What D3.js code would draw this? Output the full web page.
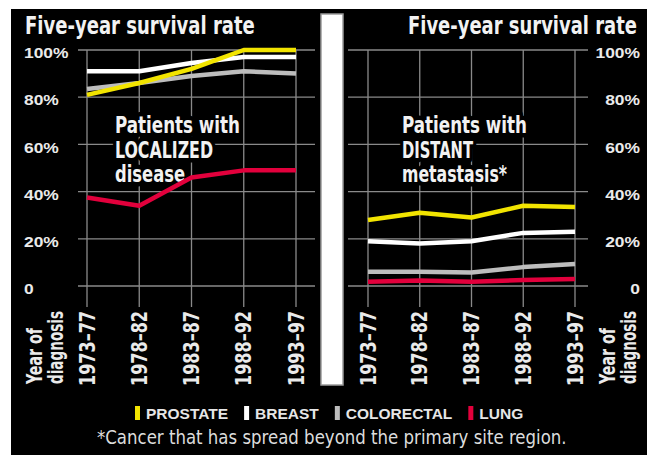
<!DOCTYPE html>
<html>
<head>
<meta charset="utf-8">
<script src="https://cdn.jsdelivr.net/npm/d3@7"></script>
<style>
  html, body { margin: 0; padding: 0; background: #fff; }
  svg { display: block; }
</style>
</head>
<body>
<svg id="chart" width="647" height="455"></svg>
<script>
// ---------- DATA ----------
const periods = ["1973–77", "1978–82", "1983–87", "1988–92", "1993–97"];
const localizedProstate   = [81, 86, 92, 100, 100];
const localizedBreast     = [91, 91, 94.5, 97, 97];
const localizedColorectal = [83.5, 86, 89, 91, 90];
const localizedLung       = [37.5, 34, 46, 49, 49];
const distantProstate     = [28, 31, 29, 34, 33.5];
const distantBreast       = [19, 18, 19, 22.5, 23];
const distantColorectal   = [6, 6, 5.7, 8, 9.3];
const distantLung         = [1.8, 2.3, 1.8, 2.5, 3];
const yTicks      = [0, 20, 40, 60, 80, 100];
const yTickLabels = ["0", "20%", "40%", "60%", "80%", "100%"];
const seriesNames  = ["PROSTATE", "BREAST", "COLORECTAL", "LUNG"];
const seriesColors = ["#f2e400", "#ffffff", "#bdbdbd", "#e2003c"];
const titleText = "Five-year survival rate";
const leftNote  = ["Patients with", "LOCALIZED", "disease"];
const rightNote = ["Patients with", "DISTANT", "metastasis*"];
const axisTitle = ["Year of", "diagnosis"];
const footnote  = "*Cancer that has spread beyond the primary site region.";

// ---------- SETUP ----------
const svg = d3.select("#chart");
const NARROW = "'Liberation Sans Narrow','DejaVu Sans Condensed','Roboto Condensed',sans-serif";
const WIDE = "'Liberation Sans','Arial',sans-serif";

svg.append("rect").attr("x", 11).attr("y", 9).attr("width", 636).attr("height", 446).attr("fill", "#000");

const y = d3.scaleLinear().domain([0, 100]).range([286, 50]);
const xL = d3.scalePoint().domain(periods).range([87, 296]);
const xR = d3.scalePoint().domain(periods).range([368, 575]);

function fitText(sel, len) {
  sel.attr("textLength", len).attr("lengthAdjust", "spacingAndGlyphs");
}
// squeeze a text horizontally with a transform so its real box matches the target width
function squeeze(sel, x0, y0, len) {
  const n = sel.node().getComputedTextLength();
  sel.attr("x", 0).attr("y", 0)
     .attr("transform", `translate(${x0},${y0}) scale(${len / n},1)`);
}

function panel(x, gx0, gx1, data, note, noteX, noteLens, side) {
  const g = svg.append("g");
  // horizontal gridlines
  g.selectAll("line.h").data(yTicks).join("line")
    .attr("x1", gx0).attr("x2", gx1)
    .attr("y1", d => y(d)).attr("y2", d => y(d))
    .attr("stroke", "#8a8a8a").attr("stroke-width", 1.3);
  // vertical gridlines
  g.selectAll("line.v").data(periods).join("line")
    .attr("x1", d => x(d)).attr("x2", d => x(d))
    .attr("y1", y(100)).attr("y2", 307)
    .attr("stroke", "#8a8a8a").attr("stroke-width", 1.3);

  // annotation (black halo), one text element with three lines
  const nt = g.append("text")
    .attr("font-family", NARROW).attr("font-size", 23).attr("font-weight", "bold")
    .attr("fill", "#f2f2f2").attr("stroke", "#000").attr("stroke-width", 9)
    .attr("stroke-linejoin", "round").attr("paint-order", "stroke");
  note.forEach((t, i) => {
    nt.append("tspan").attr("x", noteX).attr("y", [133, 158, 182][i])
      .text(t).call(fitText, noteLens[i]);
  });

  // lines (lung first, prostate on top)
  const line = d3.line().x((d, i) => x(periods[i])).y(d => y(d)).curve(d3.curveLinear);
  for (let k = data.length - 1; k >= 0; k--) {
    g.append("path").datum(data[k])
      .attr("d", line).attr("fill", "none")
      .attr("stroke", seriesColors[k]).attr("stroke-width", 4.5)
      .attr("stroke-linejoin", "round");
  }

  // x tick labels, rotated
  g.selectAll("text.xt").data(periods).join("text")
    .attr("transform", d => `translate(${x(d)},311) rotate(-90)`)
    .attr("text-anchor", "end").attr("dy", "0.36em")
    .attr("font-family", NARROW).attr("font-size", 21).attr("font-weight", "bold")
    .attr("fill", "#eaeaea")
    .text(d => d).call(fitText, 75);

  // y tick labels
  const yl = g.selectAll("text.yt").data(yTicks).join("text")
    .attr("y", d => y(d) + 3)
    .attr("dy", "0.36em")
    .attr("font-family", WIDE).attr("font-size", 14.5).attr("font-weight", "bold")
    .attr("fill", "#eaeaea")
    .text((d, i) => yTickLabels[i]);
  yl.each(function() {
    const n = this.getComputedTextLength() * 1.2;
    d3.select(this).attr("textLength", n).attr("lengthAdjust", "spacingAndGlyphs")
      .attr("x", side === "left" ? 24 : 640 - n);
  });

  // axis title "Year of diagnosis" (one text, two lines)
  const atx = side === "left" ? [34, 55] : [607, 628];
  const at = g.append("text")
    .attr("transform", `translate(0,384) rotate(-90)`)
    .attr("font-family", NARROW).attr("font-size", 21).attr("font-weight", "bold")
    .attr("fill", "#eaeaea");
  axisTitle.forEach((t, i) => {
    at.append("tspan").attr("x", 0).attr("y", atx[i]).attr("dy", "0.36em")
      .text(t).call(fitText, i === 0 ? 56 : 73);
  });
}

panel(xL, 78, 315,
  [localizedProstate, localizedBreast, localizedColorectal, localizedLung],
  leftNote, 115, [125, 98, 70], "left");
panel(xR, 348, 588,
  [distantProstate, distantBreast, distantColorectal, distantLung],
  rightNote, 402, [125, 71, 105], "right");

// titles
svg.append("text")
  .attr("font-family", NARROW).attr("font-size", 25).attr("font-weight", "bold")
  .attr("fill", "#f2f2f2").text(titleText).call(squeeze, 25, 34, 230);
svg.append("text")
  .attr("font-family", NARROW).attr("font-size", 25).attr("font-weight", "bold")
  .attr("fill", "#f2f2f2").text(titleText).call(squeeze, 408, 34, 229);

// separator bar
svg.append("rect").attr("x", 321).attr("y", 14).attr("width", 22).attr("height", 371)
  .attr("fill", "#fff").attr("stroke", "#9a9a9a").attr("stroke-width", 1.5);

// legend
const leg = svg.append("g");
let lx = 135;
seriesNames.forEach((name, i) => {
  leg.append("rect").attr("x", lx).attr("y", 406).attr("width", 5).attr("height", 14)
    .attr("fill", seriesColors[i]);
  const t = leg.append("text").attr("x", lx + 11).attr("y", 419)
    .attr("font-family", WIDE).attr("font-size", 15.5).attr("font-weight", "bold")
    .attr("fill", "#e6e6e6").text(name);
  lx = lx + 11 + t.node().getComputedTextLength() + 16;
});

// footnote
svg.append("text")
  .attr("font-family", NARROW).attr("font-size", 20)
  .attr("fill", "#dcdcdc").text(footnote).call(squeeze, 97, 444, 470);
</script>
</body>
</html>
